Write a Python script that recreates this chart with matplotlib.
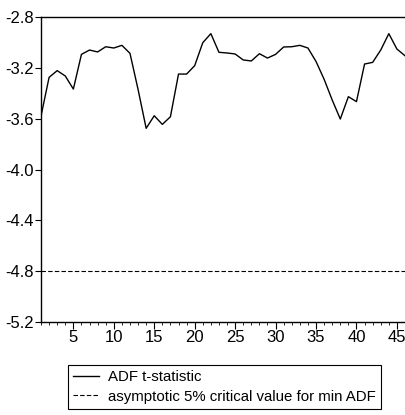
import matplotlib
matplotlib.use("Agg")
import matplotlib.pyplot as plt
from matplotlib.ticker import MultipleLocator
import numpy as np

plt.rcParams['font.family'] = ['Liberation Sans', 'DejaVu Sans']

# ADF t-statistic for each candidate break point
adf_stat = [-3.58, -3.275, -3.222, -3.264, -3.367, -3.094, -3.06, -3.075, -3.034, -3.044,
            -3.023, -3.086, -3.37, -3.676, -3.577, -3.645, -3.585, -3.249, -3.249, -3.183,
            -3.002, -2.931, -3.078, -3.083, -3.091, -3.138, -3.146, -3.089, -3.123, -3.094,
            -3.036, -3.034, -3.023, -3.044, -3.15, -3.29, -3.453, -3.603, -3.427, -3.466,
            -3.17, -3.157, -3.06, -2.931, -3.052, -3.105]
obs = list(range(1, len(adf_stat) + 1))
critical_value = -4.80
y_ticks = [-5.2, -4.8, -4.4, -4.0, -3.6, -3.2, -2.8]
x_ticks = [5, 10, 15, 20, 25, 30, 35, 40, 45]
series_labels = ["ADF t-statistic", "asymptotic 5% critical value for min ADF"]

fig = plt.figure(figsize=(4.05, 4.15), dpi=100)
ax = fig.add_axes([41 / 405, 1 - 322 / 415, 1 - 41 / 405, (322 - 17) / 415])

ax.plot(obs, adf_stat, color='black', lw=1.0, label=series_labels[0])
ax.plot(obs, [critical_value] * len(obs), color='black', lw=0.8,
        linestyle=(0, (4, 2)), label=series_labels[1])

ax.set_xlim(1, 46)
ax.set_ylim(-5.2, -2.8)
ax.set_yticks(y_ticks)
ax.set_yticklabels([f"{v:.1f}" for v in y_ticks])
ax.set_xticks(x_ticks)
ax.xaxis.set_minor_locator(MultipleLocator(1))

ax.spines['right'].set_visible(False)
for s in ('left', 'top', 'bottom'):
    ax.spines[s].set_linewidth(1.0)
ax.tick_params(axis='both', which='major', direction='out', length=4, width=0.8,
               labelsize=12, pad=1)
ax.tick_params(axis='x', which='minor', direction='out', length=2.5, width=0.6)
ax.tick_params(axis='x', which='major', length=5)

handles, labels = ax.get_legend_handles_labels()
leg = fig.legend(handles, labels, loc='upper left',
                 bbox_to_anchor=(68 / 405, 1 - 365 / 415),
                 frameon=True, fancybox=False, framealpha=1, edgecolor='black',
                 fontsize=10.8, handlelength=1.7, handletextpad=0.6,
                 labelspacing=0.35, borderpad=0.35, borderaxespad=0)
leg.get_frame().set_linewidth(0.8)

fig.savefig("out.png", dpi=100)
